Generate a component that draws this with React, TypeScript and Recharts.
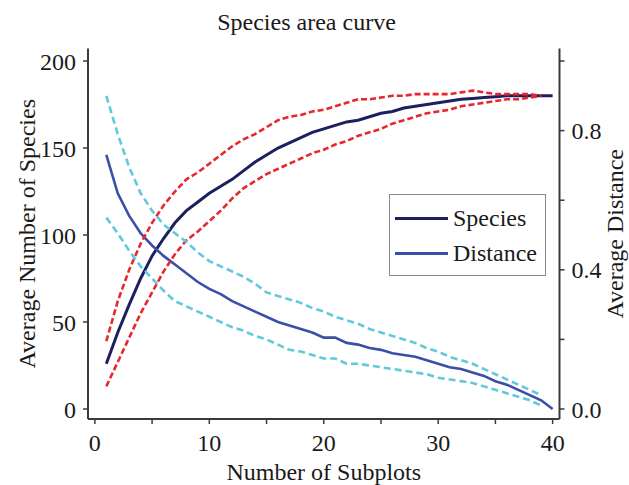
import React from 'react';
import { ComposedChart, Line, XAxis, YAxis, Legend } from 'recharts';

const FONT = '"Liberation Serif", "Times New Roman", serif';

const chartTitle = 'Species area curve';
const xTitle = 'Number of Subplots';
const leftTitle = 'Average Number of Species';
const rightTitle = 'Average Distance';

const subplots = [
  1, 2, 3, 4, 5, 6, 7, 8, 9, 10, 11, 12, 13, 14, 15, 16, 17, 18, 19, 20,
  21, 22, 23, 24, 25, 26, 27, 28, 29, 30, 31, 32, 33, 34, 35, 36, 37, 38, 39, 40,
];

const speciesMean = [
  26, 44, 60, 75, 88, 98, 107, 114, 119, 124, 128, 132, 137, 142, 146, 150, 153, 156, 159, 161,
  163, 165, 166, 168, 170, 171, 173, 174, 175, 176, 177, 178, 178.5, 179, 179.5, 180, 180, 180, 180, 180,
];
const speciesUpper = [
  39, 62, 80, 95, 107, 117, 125, 132, 136, 141, 146, 151, 155, 158, 162, 166, 168, 169, 171, 172,
  174, 176, 178, 178, 179, 180, 180, 181, 181, 181, 181, 182, 183, 182, 181, 181, 181, 181, 180,
];
const speciesLower = [
  13, 27, 41, 55, 67, 79, 89, 97, 102, 108, 114, 121, 127, 131, 135, 138, 141, 144, 147, 149,
  152, 154, 157, 159, 161, 164, 166, 168, 170, 171, 172, 174, 175, 176, 177, 178, 178, 179, 180,
];

const distanceMean = [
  0.73, 0.62, 0.555, 0.505, 0.47, 0.44, 0.415, 0.39, 0.365, 0.345, 0.33, 0.31, 0.295, 0.28, 0.265, 0.25, 0.24, 0.23, 0.22, 0.205,
  0.205, 0.19, 0.185, 0.175, 0.17, 0.16, 0.155, 0.15, 0.14, 0.13, 0.12, 0.115, 0.105, 0.095, 0.08, 0.07, 0.055, 0.04, 0.025, 0.0,
];
const distanceUpper = [
  0.9, 0.79, 0.695, 0.62, 0.57, 0.53, 0.505, 0.48, 0.45, 0.425, 0.41, 0.395, 0.38, 0.36, 0.335, 0.325, 0.315, 0.305, 0.29, 0.28,
  0.265, 0.255, 0.245, 0.23, 0.22, 0.21, 0.2, 0.19, 0.175, 0.165, 0.15, 0.14, 0.13, 0.115, 0.1, 0.085, 0.07, 0.055, 0.04,
];
const distanceLower = [
  0.55, 0.505, 0.455, 0.41, 0.375, 0.34, 0.31, 0.295, 0.28, 0.265, 0.25, 0.235, 0.225, 0.21, 0.2, 0.185, 0.17, 0.165, 0.155, 0.145,
  0.145, 0.13, 0.13, 0.125, 0.12, 0.115, 0.11, 0.105, 0.1, 0.09, 0.085, 0.08, 0.075, 0.065, 0.055, 0.045, 0.035, 0.025, 0.01,
];

const xTicks = [0, 5, 10, 15, 20, 25, 30, 35, 40];
const leftTicks = [0, 50, 100, 150, 200];
const rightTicks = [0, 0.2, 0.4, 0.6, 0.8, 1.0];
const legendOrder = ['Species', 'Distance'];

const data = subplots.map((x, i) => ({
  x,
  species: speciesMean[i],
  speciesHi: speciesUpper[i],
  speciesLo: speciesLower[i],
  distance: distanceMean[i],
  distanceHi: distanceUpper[i],
  distanceLo: distanceLower[i],
}));

const AXIS = '#3a3a3a';
const TEXT = '#1a1a1a';
const FS = 24;

const tickStyle = { fontSize: FS, fill: TEXT, fontFamily: FONT };

const LegendBox = (props: any) => {
  const items = (props.payload || [])
    .filter((p: any) => legendOrder.includes(p.value))
    .sort((a: any, b: any) => legendOrder.indexOf(a.value) - legendOrder.indexOf(b.value));
  return (
    <div
      style={{
        border: '1px solid #8a8a8a',
        width: 155,
        height: 74,
        boxSizing: 'content-box',
        paddingTop: 6,
        background: '#fff',
      }}
    >
      {items.map((it: any) => (
        <div key={it.value} style={{ display: 'flex', alignItems: 'center', height: 35 }}>
          <span
            style={{
              display: 'inline-block',
              width: 53,
              height: 3,
              marginLeft: 5,
              background: it.color,
            }}
          />
          <span
            style={{
              marginLeft: 5,
              fontFamily: FONT,
              fontSize: FS,
              color: TEXT,
              lineHeight: '35px',
            }}
          >
            {it.value}
          </span>
        </div>
      ))}
    </div>
  );
};

const rotatedTitle = (text: string, dxFromLeft: number) => (p: any) => {
  const vb = p.viewBox || { x: 0, y: 0, width: 0, height: 0 };
  const cx = vb.x + dxFromLeft;
  const cy = vb.y + vb.height / 2;
  return (
    <text
      x={cx}
      y={cy}
      dy="0.355em"
      textAnchor="middle"
      transform={`rotate(-90 ${cx} ${cy})`}
      style={{ fontFamily: FONT, fontSize: FS, fill: TEXT }}
    >
      {text}
    </text>
  );
};

export default function App() {
  return (
    <div style={{ position: 'absolute', left: 0, top: 0, width: 629, height: 485, background: '#fff' }}>
      <div
        style={{
          position: 'absolute',
          left: 0,
          top: 10,
          width: 613,
          textAlign: 'center',
          fontFamily: FONT,
          fontSize: FS,
          lineHeight: `${FS}px`,
          color: TEXT,
        }}
      >
        {chartTitle}
      </div>
      <ComposedChart
        width={629}
        height={485}
        data={data}
        margin={{ top: 48.5, right: 0, bottom: 0, left: 0 }}
        style={{ position: 'absolute', left: 0, top: 0 }}
      >
        <XAxis
          dataKey="x"
          type="number"
          domain={[-0.6, 40.6]}
          ticks={xTicks}
          allowDataOverflow
          height={66}
          tickSize={5}
          tickMargin={10}
          interval={0}
          tickFormatter={(v: number) => (v % 10 === 0 ? String(v) : '')}
          tick={tickStyle}
          axisLine={{ stroke: AXIS, strokeWidth: 2 }}
          tickLine={{ stroke: AXIS, strokeWidth: 1.5 }}
          label={{ value: xTitle, position: 'insideBottom', offset: 5, style: { fontFamily: FONT, fontSize: FS, fill: TEXT } }}
        />
        <XAxis
          xAxisId="top"
          orientation="top"
          type="number"
          domain={[-0.6, 40.6]}
          height={0}
          tick={false}
          tickLine={false}
          axisLine={{ stroke: AXIS, strokeWidth: 2 }}
        />
        <YAxis
          yAxisId="left"
          type="number"
          domain={[-5.75, 207.2]}
          ticks={leftTicks}
          allowDataOverflow
          width={88}
          tickSize={5}
          tickMargin={7}
          interval={0}
          tick={tickStyle}
          axisLine={{ stroke: AXIS, strokeWidth: 2 }}
          tickLine={{ stroke: AXIS, strokeWidth: 1.5 }}
          label={{ content: rotatedTitle(leftTitle, 26) }}
        />
        <YAxis
          yAxisId="right"
          orientation="right"
          type="number"
          domain={[-0.02875, 1.036]}
          ticks={rightTicks}
          allowDataOverflow
          width={69.5}
          tickSize={5}
          tickMargin={7}
          interval={0}
          tick={tickStyle}
          tickFormatter={(v: number) => (Math.round(v * 10) % 4 === 0 ? v.toFixed(1) : '')}
          axisLine={{ stroke: AXIS, strokeWidth: 2 }}
          tickLine={{ stroke: AXIS, strokeWidth: 1.5 }}
          label={{ content: rotatedTitle(rightTitle, 55) }}
        />
        <Legend
          layout="horizontal"
          align="center"
          verticalAlign="middle"
          content={<LegendBox />}
          wrapperStyle={{ position: 'absolute', left: 389, top: 194, width: 157, height: 82 }}
        />
        <Line
          yAxisId="left"
          dataKey="species"
          name="Species"
          stroke="#1d1f5f"
          strokeWidth={3}
          dot={false}
          activeDot={false}
          isAnimationActive={false}
        />
        <Line
          yAxisId="right"
          dataKey="distance"
          name="Distance"
          stroke="#3a4fa6"
          strokeWidth={2.6}
          dot={false}
          activeDot={false}
          isAnimationActive={false}
        />
        <Line
          yAxisId="left"
          dataKey="speciesHi"
          name="Species upper"
          legendType="none"
          stroke="#e8262d"
          strokeWidth={2.6}
          strokeDasharray="6 3"
          dot={false}
          activeDot={false}
          isAnimationActive={false}
        />
        <Line
          yAxisId="left"
          dataKey="speciesLo"
          name="Species lower"
          legendType="none"
          stroke="#e8262d"
          strokeWidth={2.6}
          strokeDasharray="6 3"
          dot={false}
          activeDot={false}
          isAnimationActive={false}
        />
        <Line
          yAxisId="right"
          dataKey="distanceHi"
          name="Distance upper"
          legendType="none"
          stroke="#62c8dc"
          strokeWidth={2.6}
          strokeDasharray="7 4"
          dot={false}
          activeDot={false}
          isAnimationActive={false}
        />
        <Line
          yAxisId="right"
          dataKey="distanceLo"
          name="Distance lower"
          legendType="none"
          stroke="#62c8dc"
          strokeWidth={2.6}
          strokeDasharray="7 4"
          dot={false}
          activeDot={false}
          isAnimationActive={false}
        />
      </ComposedChart>
    </div>
  );
}
